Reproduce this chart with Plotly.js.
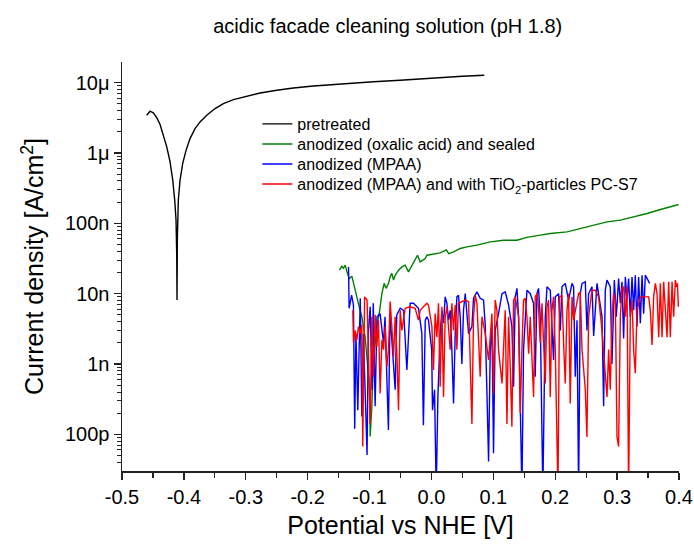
<!DOCTYPE html>
<html>
<head>
<meta charset="utf-8">
<script src="https://cdn.plot.ly/plotly-3.0.1.min.js"></script>
<style>html,body{margin:0;padding:0;background:#fff;}#chart{width:694px;height:547px;}</style>
</head>
<body>
<div id="chart"></div>
<script>
// Potential vs NHE [V] and current density [A/cm^2]
const blackX = [-0.4601,-0.4547,-0.4494,-0.4439,-0.4386,-0.4332,-0.4277,-0.4224,-0.418,-0.4148,-0.4127,-0.4116,-0.4111,-0.4106,-0.409,-0.4062,-0.4019,-0.3965,-0.3901,-0.382,-0.3739,-0.3631,-0.3496,-0.3362,-0.320,-0.2984,-0.2769,-0.2499,-0.2230,-0.1907,-0.1584,-0.126,-0.0937,-0.0505,0.014,0.050,0.0853];
const blackY = [3.44e-6,3.92e-6,3.71e-6,3.18e-6,2.56e-6,1.79e-6,1.22e-6,7.5e-7,4.1e-7,2.13e-7,1.11e-7,3.7e-8,8.1e-9,5.8e-8,2.13e-7,4.1e-7,7.1e-7,1.09e-6,1.60e-6,2.22e-6,2.76e-6,3.44e-6,4.28e-6,5.04e-6,5.74e-6,6.46e-6,7.13e-6,7.78e-6,8.4e-6,8.96e-6,9.46e-6,9.89e-6,1.03e-5,1.08e-5,1.19e-5,1.23e-5,1.27e-5];

const greenX = [-0.1487,-0.1448,-0.1422,-0.1394,-0.1357,-0.1325,-0.1286,-0.1261,-0.1233,-0.118,-0.1125,-0.1071,-0.1033,-0.100,-0.099,-0.0963,-0.0937,-0.0882,-0.084,-0.0801,-0.0764,-0.0732,-0.0694,-0.0667,-0.064,-0.0613,-0.0586,-0.0532,-0.0478,-0.0424,-0.0371,-0.0316,-0.0263,-0.0225,-0.0182,-0.0101,-0.0074,0.0141,0.024,0.028,0.0357,0.0465,0.0573,0.0735,0.095,0.1165,0.1381,0.1543,0.1758,0.192,0.219,0.2405,0.262,0.2837,0.3052,0.3268,0.3484,0.370,0.3995];
const greenY = [2.16e-8,2.45e-8,2.29e-8,2.54e-8,1.94e-8,1.64e-8,1.77e-8,1.40e-8,1.19e-8,7.2e-9,4.7e-9,2.4e-9,1.0e-9,4.3e-10,9.3e-11,2.5e-10,1.15e-9,3.4e-9,5.5e-9,1.0e-8,1.40e-8,1.19e-8,1.40e-8,1.74e-8,1.94e-8,1.56e-8,1.83e-8,2.16e-8,2.40e-8,2.54e-8,2.04e-8,2.54e-8,2.99e-8,3.52e-8,2.83e-8,3.16e-8,3.52e-8,3.80e-8,4.2e-8,3.7e-8,3.93e-8,4.39e-8,4.62e-8,4.90e-8,5.44e-8,5.75e-8,5.75e-8,6.31e-8,6.78e-8,7.16e-8,7.55e-8,8.45e-8,9.42e-8,1.05e-7,1.11e-7,1.23e-7,1.38e-7,1.57e-7,1.85e-7];

const blueX = [-0.134,-0.133,-0.129,-0.126,-0.124,-0.122,-0.119,-0.115,-0.1125,-0.110,-0.104,-0.102,-0.099,-0.096,-0.094,-0.091,-0.088,-0.083,-0.0775,-0.075,-0.0695,-0.067,-0.064,-0.0586,-0.056,-0.0505,-0.045,-0.0397,-0.0344,-0.029,-0.021,-0.0155,-0.013,-0.010,-0.0074,-0.0048,0.0004,0.0017,0.005,0.0077,0.0104,0.0141,0.0169,0.0195,0.0222,0.025,0.0276,0.0303,0.033,0.0357,0.0384,0.0411,0.0437,0.0465,0.0492,0.0518,0.0546,0.0573,0.060,0.0654,0.068,0.0735,0.0788,0.0842,0.0869,0.0897,0.0923,0.095,0.0977,0.1003,0.103,0.1084,0.114,0.1192,0.1246,0.130,0.1327,0.1354,0.1382,0.1408,0.1462,0.1488,0.1543,0.1597,0.165,0.1677,0.1705,0.173,0.1758,0.180,0.1839,0.1867,0.192,0.1973,0.2001,0.2054,0.2082,0.2109,0.2162,0.2216,0.2271,0.2297,0.2324,0.2352,0.2378,0.2405,0.2433,0.2486,0.2513,0.254,0.2594,0.2621,0.2675,0.2756,0.2782,0.2809,0.2837,0.289,0.2917,0.2955,0.2987,0.3024,0.3052,0.3079,0.3105,0.3133,0.316,0.3186,0.3213,0.3241,0.3267,0.3294,0.3321,0.3348,0.3375,0.3403,0.3429,0.3456,0.3484,0.3526];
const blueY = [2.4e-8,6.2e-9,9.5e-9,6.9e-9,1.2e-10,2.7e-9,2.2e-10,8.6e-9,1.8e-10,2.7e-9,5.1e-11,2.7e-9,6.5e-9,4.3e-10,7.3e-9,2.5e-10,4.7e-9,5.2e-9,2.0e-9,4.7e-9,1.15e-10,4.7e-9,2.2e-9,4.3e-10,5.0e-9,6.2e-9,5.8e-9,8.2e-10,7.3e-9,7.3e-9,6.2e-9,2.7e-9,1.35e-10,4.2e-9,4.7e-9,4.2e-9,1.6e-9,2.2e-10,4.3e-10,1.5e-11,3.4e-10,2.7e-9,5.8e-9,3.8e-9,9.0e-9,7.3e-9,4.2e-9,5.8e-9,1.6e-9,2.75e-10,2.7e-9,9.0e-9,9.5e-9,4.7e-9,1.0e-9,5.8e-9,1.0e-8,4.7e-9,2.7e-9,3.4e-9,8.6e-9,1.06e-8,8.6e-9,8.1e-9,3.6e-9,3.8e-10,4.1e-11,1.6e-9,3.8e-9,5.4e-11,3.0e-9,5.2e-9,1.0e-8,1.06e-8,6.9e-9,3.4e-9,4.75e-10,9.0e-9,1.19e-8,4.7e-9,1.5e-11,1.6e-9,1.12e-8,1.0e-8,7.3e-9,6.6e-10,1.0e-8,1.19e-8,4.7e-9,1.5e-11,4.7e-9,1.25e-8,1.12e-8,1.14e-9,9.0e-9,1.0e-8,3.0e-9,1.25e-8,1.4e-8,8.1e-9,1.4e-8,1.25e-8,6.6e-10,4.2e-9,1.5e-11,1.0e-8,1.4e-8,1.47e-8,3.0e-9,1.0e-8,1.25e-8,2.5e-9,1.4e-8,4.7e-9,2.5e-10,1.12e-8,1.56e-8,1.25e-8,1.0e-9,1.56e-8,4.7e-9,1.64e-8,7.3e-9,1.47e-8,2.3e-9,1.73e-8,8.1e-9,1.64e-8,4.7e-9,1.73e-8,5.8e-9,1.83e-8,3.4e-9,1.73e-8,3.8e-9,1.83e-8,5.2e-9,1.83e-8,1.64e-8,1.4e-8];

const redX = [-0.127,-0.126,-0.1233,-0.1205,-0.118,-0.115,-0.1125,-0.111,-0.108,-0.104,-0.102,-0.099,-0.0963,-0.0937,-0.091,-0.0882,-0.0856,-0.0829,-0.080,-0.0775,-0.0748,-0.072,-0.0694,-0.0667,-0.064,-0.0613,-0.0586,-0.0558,-0.0532,-0.0505,-0.0478,-0.0424,-0.0344,-0.0263,-0.021,-0.0182,-0.013,-0.0074,-0.0048,0.0007,0.0033,0.006,0.0088,0.0114,0.0141,0.0169,0.0195,0.0222,0.025,0.0303,0.033,0.0357,0.0384,0.0411,0.0437,0.0492,0.0546,0.060,0.0654,0.068,0.0707,0.0735,0.0788,0.0816,0.0869,0.0923,0.0977,0.1003,0.103,0.1058,0.1084,0.114,0.1192,0.122,0.1246,0.1273,0.130,0.1327,0.1354,0.1408,0.1435,0.1462,0.1488,0.1515,0.1543,0.157,0.1597,0.165,0.1677,0.1705,0.173,0.1758,0.1786,0.1839,0.1867,0.1893,0.192,0.1947,0.1973,0.2001,0.2028,0.2044,0.207,0.2109,0.2135,0.2162,0.219,0.2216,0.2243,0.2271,0.2297,0.2324,0.2378,0.2405,0.2433,0.2486,0.2512,0.254,0.2594,0.2647,0.2701,0.2756,0.2809,0.2837,0.2863,0.289,0.2917,0.2943,0.2971,0.2998,0.3024,0.3052,0.3079,0.3105,0.3133,0.316,0.3186,0.3213,0.3241,0.3267,0.3294,0.3321,0.3375,0.3429,0.351,0.3537,0.3565,0.359,0.3618,0.3645,0.3672,0.3699,0.3726,0.3752,0.378,0.3807,0.3833,0.386,0.3888,0.3914,0.3941,0.396,0.3975,0.399];
const redY = [5.8e-9,2.0e-9,3.0e-9,2.2e-9,3.4e-9,2.7e-9,3.6e-9,6.7e-11,9.0e-9,8.1e-9,1.6e-9,1.4e-10,4.7e-9,6.6e-10,5.0e-9,1.76e-9,4.2e-9,3.8e-10,2.2e-9,1.6e-9,3.4e-9,9.1e-10,1.6e-9,7.7e-9,3.4e-9,1.27e-9,4.7e-9,1.4e-9,2.2e-10,5.8e-9,3.0e-9,6.2e-9,6.5e-9,6.2e-9,4.2e-9,5.8e-9,6.5e-9,7.3e-9,6.9e-9,3.4e-9,8.2e-10,5.2e-9,2.4e-9,7.3e-9,4.75e-10,6.5e-9,3.4e-10,4.7e-9,6.5e-9,1.6e-9,7.3e-9,3.0e-9,6.9e-9,1.6e-9,7.3e-9,7.7e-9,8.1e-9,7.7e-9,1.4e-10,4.7e-9,9.5e-9,7.3e-9,6.6e-10,4.7e-9,2.7e-9,1.14e-9,5.2e-9,3.8e-10,8.1e-9,5.8e-9,1.6e-9,5.3e-10,5.8e-9,1.4e-10,4.7e-9,9.1e-10,1.28e-10,8.1e-9,9.0e-9,4.7e-9,2.0e-10,1.6e-9,8.1e-9,8.6e-9,4.7e-9,1.4e-9,4.7e-9,3.4e-10,9.0e-9,1.0e-8,6.5e-9,2.0e-9,7.3e-9,5.3e-10,6.5e-9,8.1e-9,3.4e-10,5.8e-9,9.0e-9,1.6e-9,1.15e-10,1.5e-11,9.0e-9,9.5e-9,2.0e-9,5.3e-10,5.8e-9,1.0e-8,2.75e-10,9.0e-9,4.2e-9,5.8e-9,1.0e-8,1.06e-8,1.6e-9,4.3e-10,9.2e-11,4.7e-9,1.12e-8,1.12e-8,9.0e-9,3.0e-9,6.6e-10,3.4e-10,1.6e-9,4.3e-10,4.7e-9,1.0e-8,8.1e-9,9.2e-11,6.7e-11,4.7e-9,1.19e-8,1.25e-8,4.7e-9,1.25e-8,1.5e-11,4.7e-9,8.1e-9,1.6e-9,7.4e-10,5.8e-9,9.0e-9,9.0e-9,9.0e-9,5.8e-9,1.86e-9,9.0e-9,1.4e-8,1.0e-8,2.4e-9,1.4e-8,2.4e-9,1.47e-8,6.5e-9,2.4e-9,1.47e-8,2.4e-9,1.47e-8,4.7e-9,1.56e-8,1.25e-8,1.4e-8,6.5e-9];

const seriesNames = ['pretreated','anodized (oxalic acid) and sealed','anodized (MPAA)','anodized (MPAA) and with TiO<sub>2</sub>-particles PC-S7'];
const seriesColors = ['#000000','#008000','#0000ff','#ff0000'];
const yTickVals = [1e-10,1e-9,1e-8,1e-7,1e-6,1e-5];
const yTickText = ['100p','1n','10n','100n','1μ','10μ'];
const xTickVals = [-0.5,-0.4,-0.3,-0.2,-0.1,0.0,0.1,0.2,0.3,0.4];
const xTickText = ['-0.5','-0.4','-0.3','-0.2','-0.1','0.0','0.1','0.2','0.3','0.4'];

const font = 'Arial, "Liberation Sans", sans-serif';
const xs = [blackX, greenX, blueX, redX];
const ys = [blackY, greenY, blueY, redY];
const legendIds = ['legend', 'legend2', 'legend3', 'legend4'];
const legendTops = [0.890, 0.841, 0.792, 0.743];
const traces = xs.map((x, i) => ({
  x: x, y: ys[i], type: 'scatter', mode: 'lines', name: seriesNames[i],
  legend: legendIds[i],
  line: {color: seriesColors[i], width: 1.4}
}));

const layout = {
  width: 694, height: 547,
  margin: {l: 122, r: 15, t: 62, b: 76},
  paper_bgcolor: '#fff', plot_bgcolor: '#fff',
  font: {family: font, color: '#000'},
  title: {text: 'acidic facade cleaning solution (pH 1.8)', font: {size: 20, family: font}, x: 0.477, xref: 'paper', xanchor: 'center', y: 0.953, yref: 'container', yanchor: 'middle'},
  showlegend: true,
  xaxis: {
    range: [-0.5, 0.4], tickmode: 'array', tickvals: xTickVals, ticktext: xTickText,
    ticks: 'outside', ticklen: 7, tickwidth: 1.3, tickcolor: '#222',
    showline: true, linecolor: '#222', linewidth: 1.5, mirror: false,
    showgrid: false, zeroline: false,
    tickfont: {size: 20, family: font},
    minor: {ticks: 'outside', ticklen: 5, tickwidth: 1.3, tickcolor: '#222', dtick: 0.05, tick0: 0, showgrid: false},
    title: {text: 'Potential vs NHE [V]', font: {size: 25, family: font}, standoff: 10}
  },
  yaxis: {
    type: 'log', range: [-10.521, -4.707], tickmode: 'array', tickvals: yTickVals, ticktext: yTickText,
    ticks: 'outside', ticklen: 7, tickwidth: 1.3, tickcolor: '#222',
    showline: true, linecolor: '#222', linewidth: 1.5, mirror: false,
    showgrid: false, zeroline: false,
    tickfont: {size: 20, family: font},
    minor: {ticks: 'outside', ticklen: 4, tickwidth: 1, tickcolor: '#222', dtick: 'D1', showgrid: false},
    title: {text: 'Current density [A/cm<sup>2</sup>]', font: {size: 25, family: font}, standoff: 14}
  }
};
legendIds.forEach((id, i) => {
  layout[id] = {x: 0.243, y: legendTops[i], xanchor: 'left', yanchor: 'top', bgcolor: 'rgba(0,0,0,0)', font: {size: 16, family: font}};
});

Plotly.newPlot('chart', traces, layout, {staticPlot: true, displayModeBar: false});
</script>
</body>
</html>
